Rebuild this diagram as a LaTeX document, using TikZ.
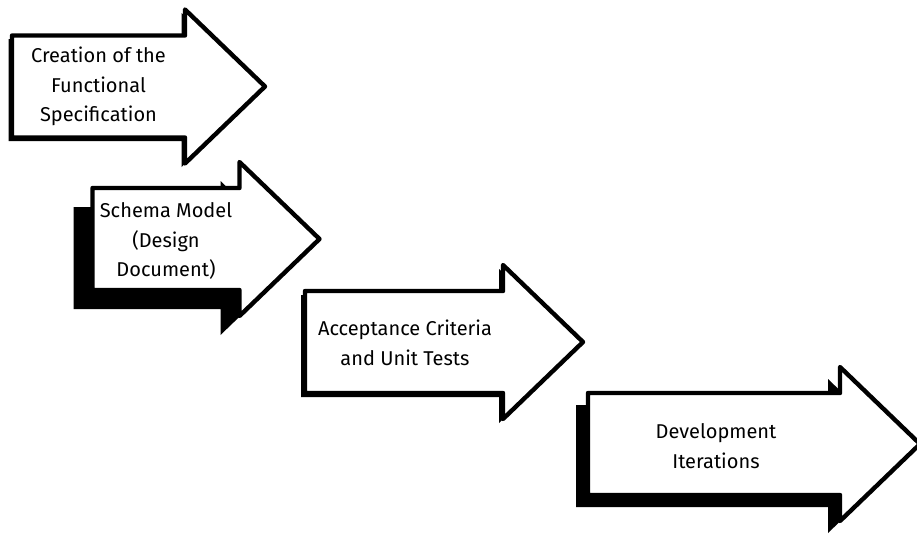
\documentclass[tikz,border=0pt]{standalone}
\usepackage{fontspec}
\setmainfont{Fira Sans}
\usetikzlibrary{shadows}

\begin{document}
\begin{tikzpicture}[
  x=1pt, y=-1pt,
  font=\fontsize{20}{29.5}\selectfont,
  % Node styles
  stagetext/.style = {align=center, inner sep=0pt},
  outline/.style   = {draw=black, line width=4.4pt, fill=white,
                      line join=round},
  ink/.style       = {drop shadow={shadow xshift=-#1, shadow yshift=-#1,
                      fill=black, opacity=1}},
  % Arrow shape: body width / shadow offset
  pics/stagearrow/.style args={#1/#2}{code={
    \draw[outline, ink=#2] (-#1/2,-51) -- (#1/2,-51) -- (#1/2,-77)
      -- (#1/2+80,0) -- (#1/2,77) -- (#1/2,51) -- (-#1/2,51) -- cycle;
  }}
]
\useasboundingbox (0,0) rectangle (917,536);
\fill[white] (0,0) rectangle (917,536);

% =========================== STAGES ===========================
\pic at (98.5, 86.5) {stagearrow=173/3.5pt};
\node[stagetext] (Spec)   at (98.5, 86.5)
  {Creation of the\\Functional\\Specification};

\pic at (166, 239) {stagearrow=147/19pt};
\node[stagetext] (Schema) at (166, 241)
  {Schema Model\\(Design\\Document)};

\pic at (404, 342) {stagearrow=198/4pt};
\node[stagetext] (Accept) at (405, 343)
  {Acceptance Criteria\\and Unit Tests};

\pic at (714, 444) {stagearrow=252/12pt};
\node[stagetext] (Dev)    at (716, 446)
  {Development\\Iterations};

\end{tikzpicture}
\end{document}
